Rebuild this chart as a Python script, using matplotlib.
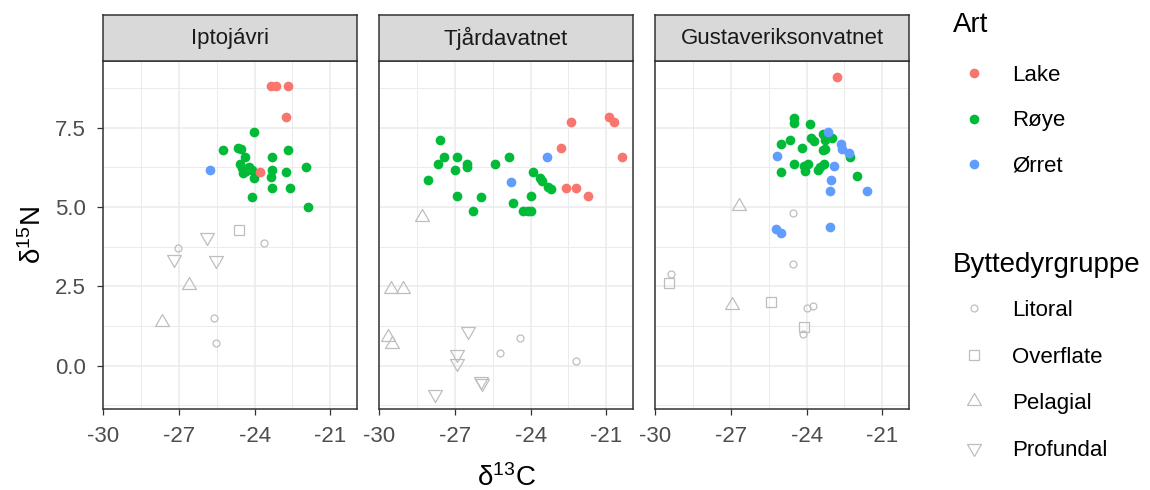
import matplotlib
matplotlib.use('Agg')
import matplotlib.pyplot as plt
from matplotlib.lines import Line2D
from matplotlib.path import Path
from matplotlib.ticker import MultipleLocator, FormatStrFormatter

plt.rcParams['font.family'] = ['Liberation Sans', 'DejaVu Sans']
plt.rcParams['mathtext.default'] = 'regular'
plt.rcParams['axes.unicode_minus'] = False

# Innsjøer (fasetter)
lakes = ['Iptojávri', 'Tjårdavatnet', 'Gustaveriksonvatnet']

# Fisk: (d13C, d15N) per art og innsjø
ipto_lake = [(-23.34, 8.83), (-23.16, 8.83), (-22.68, 8.83), (-22.76, 7.85), (-23.78, 6.10)]
ipto_roye = [(-24.01, 7.35), (-25.25, 6.80), (-24.66, 6.85), (-24.54, 6.82), (-24.40, 6.58),
             (-23.30, 6.58), (-22.67, 6.80), (-24.59, 6.36), (-24.51, 6.22), (-24.36, 6.12),
             (-24.10, 6.17), (-24.03, 5.91), (-23.32, 6.17), (-23.37, 5.96), (-22.75, 6.11),
             (-21.98, 6.27), (-23.32, 5.60), (-22.60, 5.60), (-24.10, 5.31), (-21.88, 4.99),
             (-24.23, 6.27), (-24.46, 6.06)]
ipto_orret = [(-25.76, 6.16)]

tjar_lake = [(-22.41, 7.68), (-20.91, 7.85), (-20.68, 7.67), (-22.81, 6.85), (-20.37, 6.59),
             (-22.60, 5.60), (-22.20, 5.61), (-21.71, 5.35)]
tjar_roye = [(-27.60, 7.12), (-27.45, 6.59), (-26.91, 6.59), (-27.68, 6.36), (-27.00, 6.17),
             (-26.51, 6.36), (-26.51, 6.27), (-28.08, 5.85), (-25.40, 6.36), (-24.85, 6.59),
             (-23.90, 6.11), (-23.61, 5.90), (-23.53, 5.83), (-23.30, 5.62), (-23.20, 5.58),
             (-26.91, 5.36), (-25.98, 5.31), (-23.99, 5.36), (-26.29, 4.86), (-24.69, 5.12),
             (-24.32, 4.86), (-24.12, 4.86), (-23.99, 4.86)]
tjar_orret = [(-23.37, 6.59), (-24.79, 5.79)]

gust_lake = [(-22.78, 9.11)]
gust_roye = [(-24.51, 7.80), (-24.51, 7.66), (-23.86, 7.62), (-25.03, 6.98), (-24.65, 7.12),
             (-24.18, 6.85), (-23.81, 7.17), (-23.72, 7.09), (-23.37, 7.30), (-23.28, 7.12),
             (-22.98, 7.17), (-23.37, 6.80), (-23.28, 6.82), (-22.29, 6.59), (-25.03, 6.09),
             (-24.51, 6.36), (-24.11, 6.30), (-24.07, 6.15), (-23.94, 6.36), (-23.54, 6.17),
             (-23.48, 6.27), (-23.32, 6.36), (-22.00, 5.98)]
gust_orret = [(-23.15, 7.38), (-22.62, 6.99), (-22.58, 6.82), (-22.32, 6.69), (-25.19, 6.61),
              (-22.92, 6.30), (-23.02, 5.85), (-23.08, 5.49), (-21.61, 5.49), (-25.22, 4.30),
              (-25.03, 4.17), (-23.08, 4.36)]

# Byttedyr: (d13C, d15N) per gruppe og innsjø
ipto_litoral = [(-27.02, 3.70), (-23.63, 3.88), (-25.60, 1.51), (-25.52, 0.70)]
ipto_overflate = [(-24.62, 4.29)]
ipto_pelagial = [(-26.59, 2.54), (-27.69, 1.37)]
ipto_profundal = [(-25.89, 4.05), (-27.21, 3.35), (-25.52, 3.33)]

tjar_litoral = [(-24.42, 0.88), (-25.20, 0.39), (-22.21, 0.13)]
tjar_overflate = []
tjar_pelagial = [(-28.30, 4.68), (-29.54, 2.41), (-29.07, 2.41), (-29.67, 0.91), (-29.51, 0.68)]
tjar_profundal = [(-26.49, 1.09), (-26.91, 0.37), (-26.91, 0.09), (-25.95, -0.50),
                  (-25.93, -0.56), (-27.81, -0.89)]

gust_litoral = [(-24.53, 4.80), (-24.53, 3.19), (-29.38, 2.89), (-23.98, 1.81), (-23.74, 1.88),
                (-24.14, 1.00)]
gust_overflate = [(-29.45, 2.60), (-25.42, 2.02), (-24.10, 1.21)]
gust_pelagial = [(-26.67, 5.04), (-26.97, 1.91)]
gust_profundal = []

species = ['Lake', 'Røye', 'Ørret']
species_colors = ['#F8766D', '#00BA38', '#619CFF']
prey_groups = ['Litoral', 'Overflate', 'Pelagial', 'Profundal']

fish = [[ipto_lake, ipto_roye, ipto_orret],
        [tjar_lake, tjar_roye, tjar_orret],
        [gust_lake, gust_roye, gust_orret]]
prey = [[ipto_litoral, ipto_overflate, ipto_pelagial, ipto_profundal],
        [tjar_litoral, tjar_overflate, tjar_pelagial, tjar_profundal],
        [gust_litoral, gust_overflate, gust_pelagial, gust_profundal]]

# R-lignende likesidede trekanter, sentrert i tyngdepunktet
tri_up = Path([(0, 1.555), (1.347, -0.778), (-1.347, -0.778), (0, 1.555)], closed=True)
tri_down = Path([(0, -1.555), (1.347, 0.778), (-1.347, 0.778), (0, -1.555)], closed=True)
prey_markers = ['o', 's', tri_up, tri_down]
prey_sizes = [5.0, 6.5, 11.5, 11.5]
prey_color = '#BEBEBE'

W, H = 1150, 490
fig = plt.figure(figsize=(W / 100, H / 100), dpi=100)

panel_w = 253.5
panel_lefts = [103.3, 379.3, 655.3]
panel_top, panel_bottom = 60.8, 408.7
strip_top = 15.5

dark = '#333333'
for i, name in enumerate(lakes):
    x0 = panel_lefts[i] / W
    ax = fig.add_axes([x0, 1 - panel_bottom / H, panel_w / W, (panel_bottom - panel_top) / H])
    sax = fig.add_axes([x0, 1 - panel_top / H, panel_w / W, (panel_top - strip_top) / H])

    for pts, mk, ms in zip(prey[i], prey_markers, prey_sizes):
        if pts:
            xs, ys = zip(*pts)
            ax.plot(xs, ys, linestyle='none', marker=mk, markersize=ms,
                    markerfacecolor='none', markeredgecolor=prey_color, markeredgewidth=0.9,
                    zorder=3)
    # Røye først, så Lake og Ørret oppå
    for j in [1, 0, 2]:
        pts = fish[i][j]
        xs, ys = zip(*pts)
        ax.plot(xs, ys, linestyle='none', marker='o', markersize=7.0,
                markerfacecolor=species_colors[j], markeredgewidth=0, zorder=4)

    ax.set_xlim(-30, -19.95)
    ax.set_ylim(-1.36, 9.61)
    ax.xaxis.set_major_locator(MultipleLocator(3))
    ax.xaxis.set_minor_locator(MultipleLocator(1.5))
    ax.yaxis.set_major_locator(MultipleLocator(2.5))
    ax.yaxis.set_minor_locator(MultipleLocator(1.25))
    ax.yaxis.set_major_formatter(FormatStrFormatter('%.1f'))
    ax.grid(True, which='major', color='#EBEBEB', linewidth=1.1, zorder=0)
    ax.grid(True, which='minor', color='#EBEBEB', linewidth=0.7, zorder=0)
    ax.set_axisbelow(True)
    for sp in ax.spines.values():
        sp.set_color(dark)
        sp.set_linewidth(1.1)
    ax.tick_params(which='major', length=4.3, width=0.9, color=dark, labelsize=16,
                   labelcolor='#4D4D4D', pad=8)
    ax.tick_params(which='minor', length=0)
    if i > 0:
        ax.tick_params(axis='y', which='both', left=False, labelleft=False)

    sax.set_facecolor('#D9D9D9')
    sax.set_xticks([])
    sax.set_yticks([])
    for sp in sax.spines.values():
        sp.set_color(dark)
        sp.set_linewidth(1.1)
    sax.text(0.5, 0.5, name, transform=sax.transAxes, ha='center', va='center',
             fontsize=16, color='#1A1A1A')

# Aksetitler
fig.text(506 / W, 1 - 486 / H, r'δ$^{13}$C', ha='center', va='baseline', fontsize=20)
fig.text(33 / W, 1 - 235 / H, r'δ$^{15}$N', ha='center', va='center', rotation=90, fontsize=20)

# Legender
art_handles = [Line2D([], [], linestyle='none', marker='o', markersize=7.0,
                      markerfacecolor=c, markeredgewidth=0) for c in species_colors]
prey_handles = [Line2D([], [], linestyle='none', marker=mk, markersize=ms,
                       markerfacecolor='none', markeredgecolor=prey_color, markeredgewidth=0.9)
                for mk, ms in zip(prey_markers, prey_sizes)]

leg_kw = dict(frameon=False, fontsize=16, borderaxespad=0, borderpad=0,
              handlelength=1.9, handletextpad=0.75, loc='upper left')
fig.text(953 / W, 1 - 32 / H, 'Art', ha='left', va='baseline', fontsize=20)
fig.legend(art_handles, species, bbox_to_anchor=(953 / W, 1 - 65 / H),
           labelspacing=1.1, **leg_kw)
fig.text(953 / W, 1 - 272 / H, 'Byttedyrgruppe', ha='left', va='baseline', fontsize=20)
fig.legend(prey_handles, prey_groups, bbox_to_anchor=(953 / W, 1 - 300 / H),
           labelspacing=1.15, **leg_kw)

fig.savefig('out.png', dpi=100)
